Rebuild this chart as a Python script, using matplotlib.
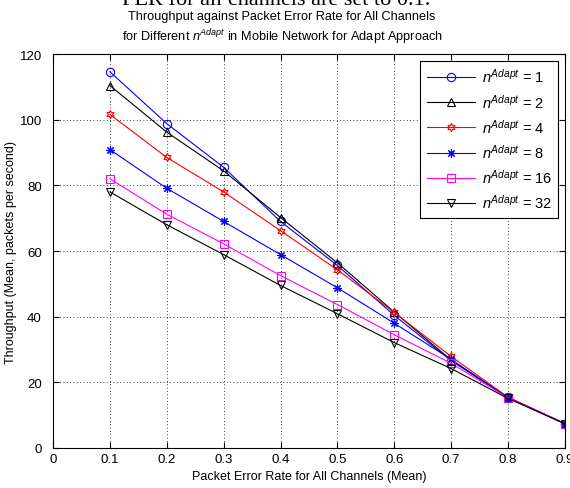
import matplotlib
matplotlib.use('Agg')
from matplotlib import pyplot as plt
import numpy as np

plt.rcParams['font.family'] = ['Liberation Sans', 'DejaVu Sans']
plt.rcParams['mathtext.fontset'] = 'custom'
plt.rcParams['mathtext.rm'] = 'Liberation Sans'
plt.rcParams['mathtext.it'] = 'Liberation Sans:italic'

# data
per = [0.1, 0.2, 0.3, 0.4, 0.5, 0.6, 0.7, 0.8, 0.9]
n_adapt = [1, 2, 4, 8, 16, 32]
thr_1 = [114.6, 98.8, 85.5, 69.0, 55.6, 40.4, 26.6, 15.4, 7.4]
thr_2 = [110.4, 96.2, 84.4, 70.2, 56.4, 41.4, 26.8, 15.4, 7.4]
thr_4 = [101.6, 88.5, 78.0, 66.2, 54.3, 41.3, 27.9, 15.5, 7.4]
thr_8 = [90.9, 79.1, 69.0, 58.9, 48.8, 38.0, 27.0, 15.3, 7.4]
thr_16 = [82.0, 71.2, 62.2, 52.5, 43.7, 34.5, 25.8, 15.3, 7.4]
thr_32 = [78.0, 68.0, 58.9, 49.5, 40.9, 32.1, 24.2, 15.1, 7.4]
series = [thr_1, thr_2, thr_4, thr_8, thr_16, thr_32]

colors = ['#0000ff', 'k', '#ff0000', '#0000ff', '#ff00ff', 'k']
markers = ['o', '^', (6, 1, 0), (8, 2, 0), 's', 'v']

fig = plt.figure(figsize=(5.70, 4.89), dpi=100)
ax = fig.add_axes([0.093, 0.0818, 0.898, 0.8057])

for n, vals, c, m in zip(n_adapt, series, colors, markers):
    ax.plot(per, vals, color=c, marker=m, markersize=6, markerfacecolor='none',
            markeredgecolor=c, markeredgewidth=0.8, linewidth=0.8,
            label=r'$n^{Adapt}$ = %d' % n)

ax.set_xlim(0, 0.9)
ax.set_ylim(0, 120)
ax.set_xticks(np.arange(0, 0.91, 0.1))
ax.set_xticklabels(['0', '0.1', '0.2', '0.3', '0.4', '0.5', '0.6', '0.7', '0.8', '0.9'])
ax.set_yticks(np.arange(0, 121, 20))
ax.grid(True, color='k', linestyle=(0, (1, 3)), linewidth=0.6)
ax.tick_params(direction='in', top=True, right=True, labelsize=9.5, length=4)
ax.tick_params(axis='y', pad=8)
for sp in ax.spines.values():
    sp.set_linewidth(0.8)

ax.set_xlabel('Packet Error Rate for All Channels (Mean)', fontsize=9, labelpad=4)
ax.set_ylabel('Throughput (Mean, packets per second)', fontsize=9, labelpad=2)

fig.text(0.495, 1 - 17 / 489, 'Throughput against Packet Error Rate for All Channels',
         fontsize=9.2, ha='center', va='center')
fig.text(0.495, 1 - 37 / 489,
         r'for Different $n^{Adapt}$ in Mobile Network for Adapt Approach',
         fontsize=9.2, ha='center', va='center')

leg = ax.legend(loc='upper right', fontsize=10.5, fancybox=False, framealpha=1,
                edgecolor='k', handlelength=3.3, handletextpad=0.45, borderpad=0.45,
                labelspacing=0.5, borderaxespad=0.45)
leg.get_frame().set_linewidth(0.8)

fig.text(0.485, 1 - 5 / 489, 'PER for all channels are set to 0.1.',
         family='Liberation Serif', fontsize=16, ha='center', va='baseline')

fig.savefig('out.png', dpi=100)
